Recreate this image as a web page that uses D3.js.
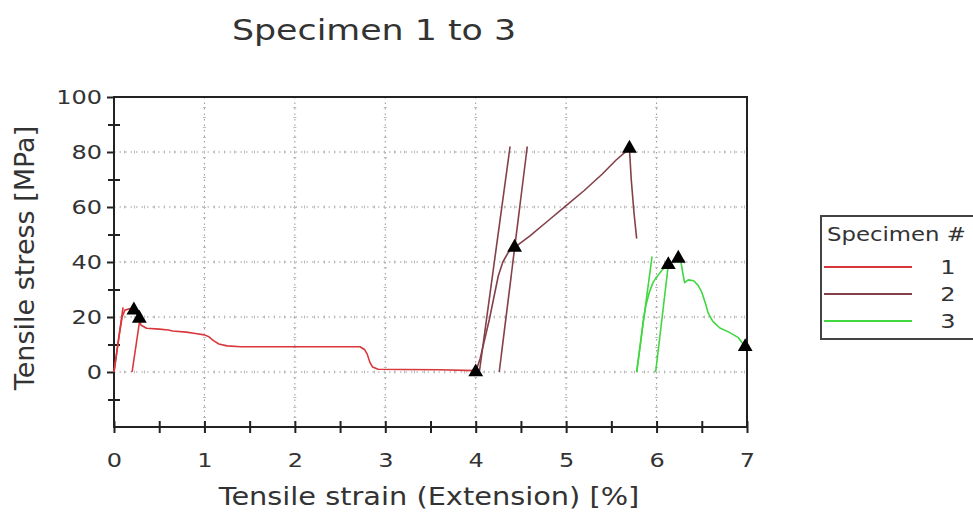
<!DOCTYPE html>
<html>
<head>
	<meta charset="utf-8" />
	<title>Specimen 1 to 3</title>
	<script src="https://d3js.org/d3.v7.min.js" charset="utf-8"></script>
	<style>
	body { margin: 0; background: #fff; }
	text { font-family: "DejaVu Sans", Verdana, sans-serif; fill: #333; }
	.grid line { stroke: #999; stroke-width: 1; stroke-dasharray: 1.5,4; }
	.grid line.mark { stroke: #bbb; stroke-width: 3; stroke-dasharray: 1,9; }
	</style>
</head>
<body>
<div id="chart"></div>
<script>

// series values: [strain %, stress MPa]
const spec1Curve = [[0,0],[0.03,7],[0.06,14],[0.09,20],[0.12,22.5],[0.17,23],[0.22,22.5],[0.26,20.5],
	[0.3,17],[0.36,15.9],[0.5,15.6],[0.6,15.3],[0.65,14.9],[0.8,14.5],[0.9,14],[1.0,13.5],[1.05,12.8],
	[1.1,11.4],[1.16,10.2],[1.25,9.5],[1.4,9.2],[2.0,9.2],[2.72,9.2],[2.77,8.2],[2.8,6.5],[2.83,3.5],
	[2.86,1.8],[2.92,1.0],[3.2,0.9],[3.6,0.8],[4.0,0.5]];
const spec1Lines = [[[0,0],[0.1,23.5]], [[0.2,0],[0.29,20]]];
const spec1Marks = [[0.22,22.5],[0.28,19.5],[4.0,0]];

const spec2Curve = [[4.0,0],[4.05,5],[4.1,12],[4.15,19],[4.2,27],[4.25,35],[4.3,40],[4.36,43.5],
	[4.43,45.3],[4.6,49.5],[4.8,55],[5.0,60.5],[5.2,66],[5.4,72],[5.55,77],[5.70,81.3],
	[5.72,70],[5.75,58],[5.78,48.5]];
const spec2Lines = [[[4.04,0],[4.38,82]], [[4.26,0],[4.57,82]]];
const spec2Marks = [[4.43,45.3],[5.70,81.3]];

const spec3Curve = [[5.78,0],[5.82,10],[5.85,18],[5.88,24],[5.92,29],[5.96,32.5],[6.0,34.5],[6.06,37],
	[6.13,39],[6.2,40.5],[6.24,41.3],[6.27,40],[6.29,36],[6.31,32.5],[6.35,33.5],[6.41,33.2],
	[6.46,31.5],[6.5,29],[6.54,25],[6.57,21.5],[6.62,18.5],[6.7,16],[6.8,14.5],[6.9,12.6],[6.98,9.2]];
const spec3Lines = [[[5.78,0],[5.95,42]], [[5.99,0],[6.13,39]]];
const spec3Marks = [[6.13,39],[6.24,41.3],[6.98,9.2]];

const specNames = ["1", "2", "3"];
const specColors = ["#d8383c", "#84404a", "#3fd83f"];

const xTicks = d3.range(0, 7.01, 0.5);
const yTicks = d3.range(-10, 101, 10);
const gridX = [1, 2, 3, 4, 5, 6];
const gridY = [0, 20, 40, 60, 80];

let width = 973, height = 520;
let stretchK = 1.2;  // picture is a bit wider than tall

let svg = d3.select("#chart").append("svg")
	.attr("width", width)
	.attr("height", height);

let x = d3.scaleLinear().domain([0, 7]).range([114, 747]);
let y = d3.scaleLinear().domain([-20, 100]).range([427, 97]);

function stretch(sel, k) {
	sel.each(function() {
		let w = this.getComputedTextLength();
		d3.select(this).attr("textLength", w * k).attr("lengthAdjust", "spacingAndGlyphs");
	});
}

// grid
let grid = svg.append("g").attr("class", "grid");
gridX.forEach(v => {
	grid.append("line").attr("x1", x(v)).attr("x2", x(v)).attr("y1", y(100)).attr("y2", y(-20));
	grid.append("line").attr("class", "mark").attr("x1", x(v)).attr("x2", x(v)).attr("y1", y(100)).attr("y2", y(-20));
});
gridY.forEach(v => {
	grid.append("line").attr("x1", x(0)).attr("x2", x(7)).attr("y1", y(v)).attr("y2", y(v));
	grid.append("line").attr("class", "mark").attr("x1", x(0)).attr("x2", x(7)).attr("y1", y(v)).attr("y2", y(v));
});

// frame
svg.append("rect")
	.attr("x", x(0)).attr("y", y(100))
	.attr("width", x(7) - x(0)).attr("height", y(-20) - y(100))
	.attr("fill", "none")
	.attr("stroke", "#222")
	.attr("stroke-width", 2);

// axes
let xAxis = svg.append("g")
	.attr("transform", "translate(0," + y(-20) + ")")
	.call(d3.axisBottom(x).tickValues(xTicks).tickSize(6).tickPadding(20)
		.tickFormat(d => Number.isInteger(d) ? d : ""));
xAxis.select(".domain").remove();
xAxis.selectAll(".tick line").attr("y1", -6).attr("stroke", "#222").attr("stroke-width", 2);
xAxis.selectAll(".tick text").attr("font-size", 20).attr("fill", "#333")
	.style("font-family", "'DejaVu Sans', Verdana, sans-serif").call(stretch, stretchK);

let yAxis = svg.append("g")
	.attr("transform", "translate(" + x(0) + ",0)")
	.call(d3.axisLeft(y).tickValues(yTicks).tickSize(7).tickPadding(5)
		.tickFormat(d => d >= 0 && d % 20 == 0 ? d : ""));
yAxis.select(".domain").remove();
yAxis.selectAll(".tick line").attr("stroke", "#222").attr("stroke-width", 2)
	.attr("x2", d => d % 20 == 0 ? -7 : -6)
	.attr("x1", d => d % 20 == 0 ? 0 : 6);
yAxis.selectAll(".tick text").attr("font-size", 20).attr("fill", "#333")
	.style("font-family", "'DejaVu Sans', Verdana, sans-serif").call(stretch, stretchK);

// curves
let line = d3.line().x(d => x(d[0])).y(d => y(d[1]));
let plot = svg.append("g");

[[spec1Curve, spec1Lines], [spec2Curve, spec2Lines], [spec3Curve, spec3Lines]].forEach((s, i) => {
	s[1].forEach(l => {
		plot.append("path").datum(l).attr("d", line)
			.attr("fill", "none").attr("stroke", specColors[i]).attr("stroke-width", 1.6);
	});
	plot.append("path").datum(s[0]).attr("d", line)
		.attr("fill", "none").attr("stroke", specColors[i]).attr("stroke-width", 1.6)
		.attr("stroke-linejoin", "round");
});

// break / yield markers
let tri = d3.symbol().type(d3.symbolTriangle).size(95);
plot.selectAll("path.mark")
	.data(spec1Marks.concat(spec2Marks, spec3Marks))
	.enter().append("path")
	.attr("class", "mark")
	.attr("d", tri)
	.attr("transform", d => "translate(" + x(d[0]) + "," + y(d[1]) + ")")
	.attr("fill", "#000");

// titles
svg.append("text")
	.attr("x", 374).attr("y", 40)
	.attr("text-anchor", "middle")
	.attr("font-size", 29)
	.text("Specimen 1 to 3")
	.call(stretch, stretchK);

svg.append("text")
	.attr("x", 429).attr("y", 505)
	.attr("text-anchor", "middle")
	.attr("font-size", 24)
	.text("Tensile strain (Extension) [%]")
	.call(stretch, stretchK);

svg.append("text")
	.attr("transform", "translate(34,258) rotate(-90)")
	.attr("text-anchor", "middle")
	.attr("font-size", 27)
	.text("Tensile stress [MPa]");

// legend
let legend = svg.append("g");
legend.append("rect")
	.attr("x", 821).attr("y", 216)
	.attr("width", 160).attr("height", 123)
	.attr("fill", "#fff")
	.attr("stroke", "#444")
	.attr("stroke-width", 2);
legend.append("text")
	.attr("x", 827).attr("y", 241)
	.attr("font-size", 19)
	.text("Specimen #")
	.call(stretch, stretchK);
specNames.forEach((n, i) => {
	let ly = 267 + i * 27;
	legend.append("line")
		.attr("x1", 824).attr("x2", 912).attr("y1", ly).attr("y2", ly)
		.attr("stroke", specColors[i]).attr("stroke-width", 2);
	legend.append("text")
		.attr("x", 948).attr("y", ly + 7)
		.attr("text-anchor", "middle")
		.attr("font-size", 20)
		.text(n)
		.call(stretch, stretchK);
});

</script>
</body>
</html>
